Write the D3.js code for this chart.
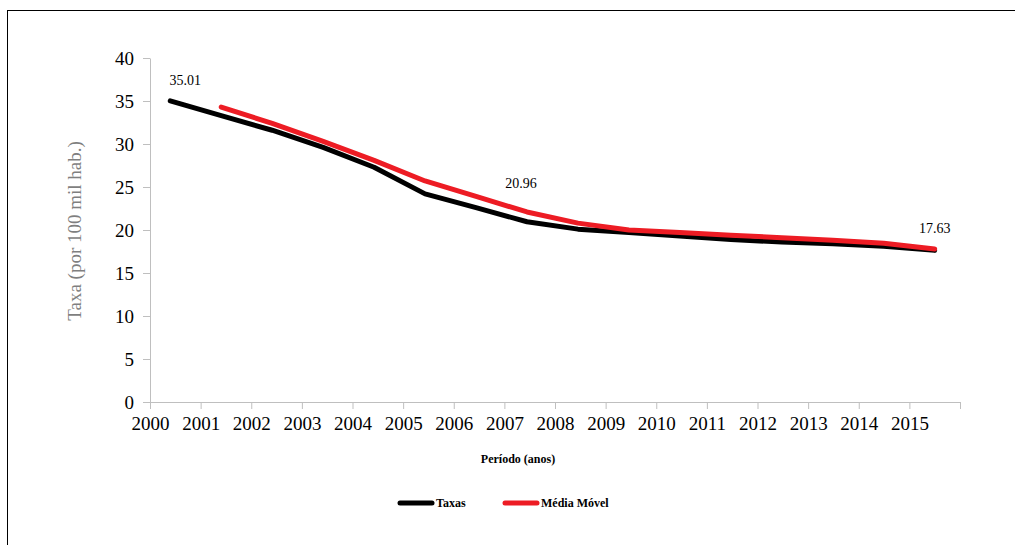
<!DOCTYPE html>
<html>
<head>
<meta charset="utf-8">
<script src="https://cdn.jsdelivr.net/npm/d3@7"></script>
<style>
  body { margin: 0; background: #fff; }
  svg { display: block; }
  svg text { font-family: "Liberation Serif", "DejaVu Serif", "Times New Roman", Times, serif; }
</style>
</head>
<body>
<div id="chart"></div>
<script>
// data
const years = [2000, 2001, 2002, 2003, 2004, 2005, 2006, 2007, 2008, 2009, 2010, 2011, 2012, 2013, 2014, 2015];
const taxas = [35.01, 33.3, 31.6, 29.6, 27.3, 24.2, 22.6, 20.96, 20.1, 19.7, 19.3, 18.9, 18.6, 18.4, 18.1, 17.63];
const mediaMovel = [null, 34.3, 32.4, 30.3, 28.1, 25.7, 23.9, 22.1, 20.8, 20.0, 19.7, 19.4, 19.1, 18.8, 18.45, 17.8];
const yTicks = [0, 5, 10, 15, 20, 25, 30, 35, 40];
const xTicks = [2000, 2001, 2002, 2003, 2004, 2005, 2006, 2007, 2008, 2009, 2010, 2011, 2012, 2013, 2014, 2015, 2016];
const labelIdx = [0, 7, 15];

const width = 1015, height = 545;
const margin = {top: 58, right: 55, bottom: 143, left: 150};

const svg = d3.create('svg')
    .attr('width', width)
    .attr('height', height);

// outer frame (cut by the window on right/bottom)
svg.append('rect')
    .attr('x', 7.5).attr('y', 10.5)
    .attr('width', width + 20).attr('height', height + 20)
    .attr('fill', 'none')
    .attr('stroke', '#000')
    .attr('stroke-width', 1);

// scales
const x = d3.scaleLinear()
    .domain([2000, 2016])
    .range([margin.left, width - margin.right]);

const y = d3.scaleLinear()
    .domain([0, 40])
    .range([height - margin.bottom, margin.top]);

// points sit a bit off the year ticks, like in the original
const xp = d3.scalePoint()
    .domain(years)
    .range([x(2000.4), x(2015.5)]);

// x axis
svg.append('g')
    .attr('font-family', null)
    .attr('transform', `translate(0, ${y(0)})`)
    .call(d3.axisBottom(x).tickValues(xTicks).tickSize(7).tickPadding(8)
        .tickFormat(d => d === 2016 ? '' : d))
    .call(g => g.attr('font-family', null))
    .call(g => g.selectAll('.domain, line').attr('stroke', '#bfbfbf'))
    .call(g => g.selectAll('text')
        .attr('font-size', 19)
        .attr('fill', '#000'));

// y axis
svg.append('g')
    .attr('transform', `translate(${margin.left}, 0)`)
    .call(d3.axisLeft(y).tickValues(yTicks).tickSize(7).tickPadding(9).tickSizeOuter(0))
    .call(g => g.attr('font-family', null))
    .call(g => g.selectAll('.domain, line').attr('stroke', '#bfbfbf'))
    .call(g => g.selectAll('text')
        .attr('font-size', 19)
        .attr('fill', '#000'));

// axis titles
svg.append('text')
    .attr('transform', 'rotate(-90)')
    .attr('x', -231)
    .attr('y', 81)
    .attr('text-anchor', 'middle')
    .attr('font-size', 19)
    .attr('fill', '#7f7f7f')
    .text('Taxa (por 100 mil hab.)');

svg.append('text')
    .attr('x', 518)
    .attr('y', 463)
    .attr('text-anchor', 'middle')
    .attr('font-weight', 'bold')
    .attr('font-size', 12)
    .attr('fill', '#000')
    .text('Período (anos)');

// lines
const line = d3.line()
    .defined(d => d.v != null)
    .x(d => xp(d.year))
    .y(d => y(d.v));

const series = [
    {name: 'Taxas', color: '#000000', values: taxas},
    {name: 'Média Móvel', color: '#ed1c24', values: mediaMovel}
];

series.forEach(s => {
    svg.append('path')
        .datum(years.map((yr, i) => ({year: yr, v: s.values[i]})))
        .attr('fill', 'none')
        .attr('stroke', s.color)
        .attr('stroke-width', 5)
        .attr('stroke-linecap', 'round')
        .attr('stroke-linejoin', 'round')
        .attr('d', line);
});

// data labels
const labelOffset = {0: 16, 7: 34, 15: 17};
svg.selectAll('.lbl')
    .data(labelIdx)
    .enter().append('text')
    .attr('class', 'lbl')
    .attr('x', i => xp(years[i]) + (i === 7 ? -6 : (i === 0 ? 15 : 0)))
    .attr('y', i => y(taxas[i]) - labelOffset[i])
    .attr('text-anchor', 'middle')
    .attr('font-size', 14)
    .attr('fill', '#000')
    .text(i => taxas[i].toFixed(2));

// legend
const legend = svg.append('g');
const legendItems = [
    {name: 'Taxas', color: '#000000', x: 400},
    {name: 'Média Móvel', color: '#ed1c24', x: 505}
];
legendItems.forEach(d => {
    legend.append('line')
        .attr('x1', d.x).attr('x2', d.x + 32)
        .attr('y1', 503).attr('y2', 503)
        .attr('stroke', d.color)
        .attr('stroke-width', 5)
        .attr('stroke-linecap', 'round');
    legend.append('text')
        .attr('x', d.x + 36)
        .attr('y', 507)
        .attr('font-weight', 'bold')
        .attr('font-size', 12)
        .attr('fill', '#000')
        .text(d.name);
});

document.getElementById('chart').appendChild(svg.node());
</script>
</body>
</html>
